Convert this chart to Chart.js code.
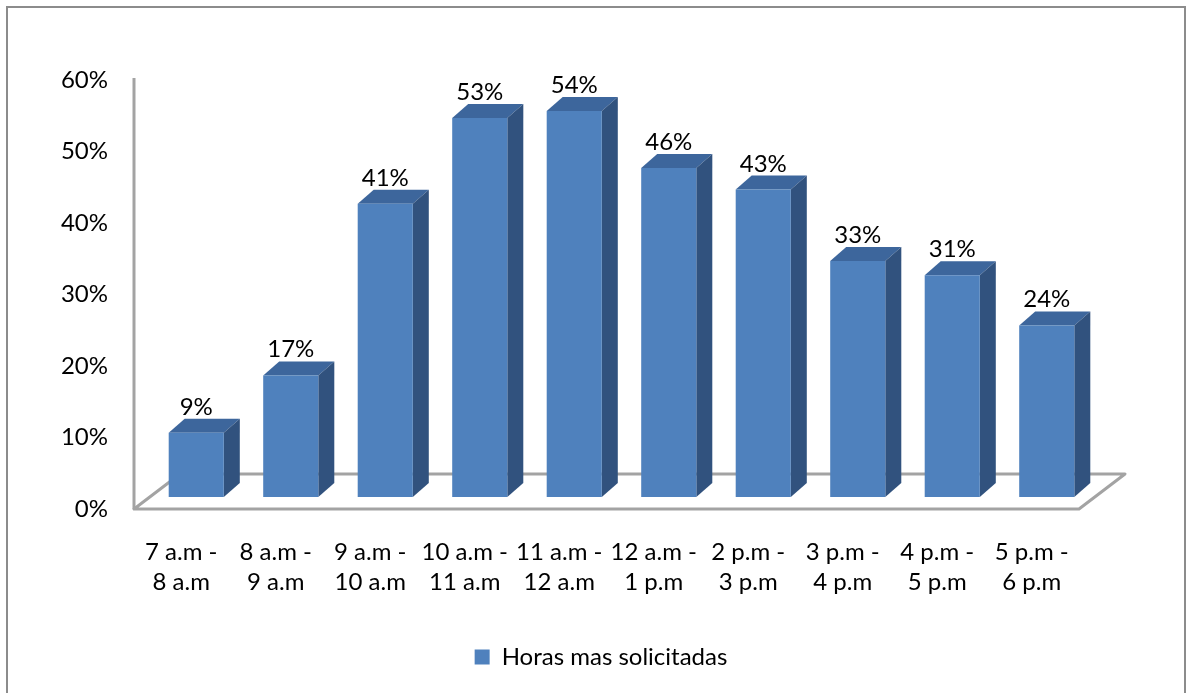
<!DOCTYPE html>
<html lang="es">
<head>
<meta charset="utf-8">
<title>Horas mas solicitadas</title>
<script src="https://cdn.jsdelivr.net/npm/chart.js@4.4.1/dist/chart.umd.min.js"></script>
<style>
  html, body { margin: 0; padding: 0; background: #ffffff; }
  #wrap { width: 1188px; height: 693px; position: relative; }
</style>
</head>
<body>
<div id="wrap"><canvas id="grafico" width="1188" height="693"></canvas></div>
<script>
// Franjas horarias (dos líneas por etiqueta)
const horarios = [
  ["7 a.m -", "8 a.m"],
  ["8 a.m -", "9 a.m"],
  ["9 a.m -", "10 a.m"],
  ["10 a.m -", "11 a.m"],
  ["11 a.m -", "12 a.m"],
  ["12 a.m -", "1 p.m"],
  ["2 p.m -", "3 p.m"],
  ["3 p.m -", "4 p.m"],
  ["4 p.m -", "5 p.m"],
  ["5 p.m -", "6 p.m"]
];
// Porcentaje de solicitudes por franja
const porcentajes = [9, 17, 41, 53, 54, 46, 43, 33, 31, 24];
const nombreSerie = "Horas mas solicitadas";
// Eje Y: 0% a 60% en pasos de 10%
const ejeMin = 0, ejeMax = 60, ejePaso = 10;

const FUENTE = "Lato, 'Open Sans', sans-serif";
const TAM = 24;
const AZUL = "#4F81BD", AZUL_TECHO = "#3D669C", AZUL_LADO = "#31527E";
const GRIS = "#A3A3A3";

// Desplazamiento de las barras hacia el fondo y profundidad de cada barra
const BAR_DX = 15, BAR_DY = -12;
const PROF_X = 16, PROF_Y = 14;
// Profundidad del piso
const PISO_DX = 46, PISO_DY = 35;

const columnas3d = {
  id: "columnas3d",
  beforeDraw(chart) {
    const ctx = chart.ctx;
    ctx.save();
    ctx.fillStyle = "#ffffff";
    ctx.fillRect(0, 0, chart.width, chart.height);
    ctx.strokeStyle = "#8C8C8C";
    ctx.lineWidth = 2;
    ctx.strokeRect(7, 7, chart.width - 10, chart.height + 10);
    ctx.restore();
  },
  beforeDatasetsDraw(chart) {
    const ctx = chart.ctx;
    const a = chart.chartArea;
    const y = chart.scales.y;
    const base = y.getPixelForValue(ejeMin);
    const tope = y.getPixelForValue(ejeMax) - 2;
    ctx.save();
    ctx.strokeStyle = GRIS;
    ctx.lineWidth = 3;
    ctx.lineJoin = "round";
    // piso
    ctx.beginPath();
    ctx.moveTo(a.left + PISO_DX, base - PISO_DY);
    ctx.lineTo(a.left, base);
    ctx.lineTo(a.right, base);
    ctx.lineTo(a.right + PISO_DX, base - PISO_DY);
    ctx.lineTo(a.left + PISO_DX, base - PISO_DY);
    ctx.stroke();
    // eje vertical
    ctx.beginPath();
    ctx.moveTo(a.left, tope);
    ctx.lineTo(a.left, base);
    ctx.stroke();
    ctx.restore();
  },
  beforeDatasetDraw(chart, args) {
    const ctx = chart.ctx;
    ctx.save();
    ctx.translate(BAR_DX, BAR_DY);
    args.meta.data.forEach(bar => {
      const p = bar.getProps(["x", "y", "base", "width"], true);
      const x0 = p.x - p.width / 2, x1 = p.x + p.width / 2;
      // cara superior
      ctx.fillStyle = AZUL_TECHO;
      ctx.beginPath();
      ctx.moveTo(x0, p.y);
      ctx.lineTo(x0 + PROF_X, p.y - PROF_Y);
      ctx.lineTo(x1 + PROF_X, p.y - PROF_Y);
      ctx.lineTo(x1, p.y);
      ctx.closePath();
      ctx.fill();
      // cara lateral
      ctx.fillStyle = AZUL_LADO;
      ctx.beginPath();
      ctx.moveTo(x1, p.y);
      ctx.lineTo(x1 + PROF_X, p.y - PROF_Y);
      ctx.lineTo(x1 + PROF_X, p.base - PROF_Y);
      ctx.lineTo(x1, p.base);
      ctx.closePath();
      ctx.fill();
    });
  },
  afterDatasetDraw(chart, args) {
    const ctx = chart.ctx;
    ctx.restore();
    const valores = chart.data.datasets[args.index].data;
    ctx.save();
    ctx.fillStyle = "#000000";
    ctx.font = TAM + "px " + FUENTE;
    ctx.textAlign = "center";
    ctx.textBaseline = "alphabetic";
    args.meta.data.forEach((bar, i) => {
      const p = bar.getProps(["x", "y"], true);
      ctx.fillText(valores[i] + "%", p.x + BAR_DX, p.y + BAR_DY - 18);
    });
    ctx.restore();
  }
};

new Chart(document.getElementById("grafico"), {
  type: "bar",
  data: {
    labels: horarios,
    datasets: [{
      label: nombreSerie,
      data: porcentajes,
      backgroundColor: AZUL,
      borderWidth: 0,
      categoryPercentage: 1,
      barPercentage: 0.583,
      clip: false
    }]
  },
  options: {
    responsive: false,
    animation: false,
    events: [],
    layout: { padding: { top: 80, left: 14, right: 0, bottom: 14 } },
    scales: {
      x: {
        grid: { display: false, drawTicks: false },
        border: { display: false },
        ticks: {
          autoSkip: false, maxRotation: 0, minRotation: 0,
          padding: 28, color: "#000000",
          font: { family: FUENTE, size: TAM, lineHeight: 1.25 }
        },
        afterFit(scale) { scale.height = 126; }
      },
      y: {
        min: ejeMin, max: ejeMax,
        grid: { display: false, drawTicks: false },
        border: { display: false },
        ticks: {
          stepSize: ejePaso, padding: 26, color: "#000000",
          font: { family: FUENTE, size: TAM },
          callback: v => v + "%"
        },
        afterFit(scale) { scale.width = 120; }
      },
      // margen derecho reservado para la profundidad del piso
      margen: {
        type: "linear",
        position: "right",
        grid: { display: false, drawTicks: false },
        border: { display: false },
        ticks: { display: false },
        afterFit(scale) { scale.width = 109; }
      }
    },
    plugins: {
      tooltip: { enabled: false },
      legend: {
        position: "bottom",
        labels: {
          boxWidth: 15, boxHeight: 15, padding: 10,
          color: "#000000",
          font: { family: FUENTE, size: TAM }
        }
      }
    }
  },
  plugins: [columnas3d]
});
</script>
</body>
</html>
